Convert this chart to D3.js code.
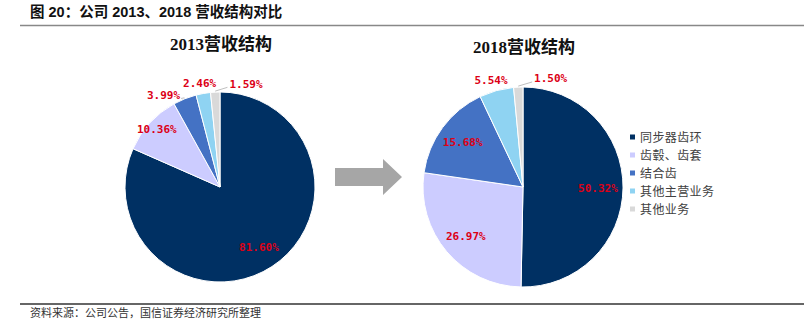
<!DOCTYPE html>
<html><head><meta charset="utf-8">
<script src="https://cdn.jsdelivr.net/npm/d3@7"></script>
<style>body{margin:0;background:#fff}svg{display:block}</style>
</head><body>
<svg id="c" width="804" height="331"></svg>
<script>
const categories = ["同步器齿环", "齿毂、齿套", "结合齿", "其他主营业务", "其他业务"];
const values2013 = [81.60, 10.36, 3.99, 2.46, 1.59];
const values2018 = [50.32, 26.97, 15.68, 5.54, 1.50];
const pieTitles = ["2013营收结构", "2018营收结构"];
const colors = ["#003063", "#ccccff", "#4472c4", "#8fd3f2", "#d9d9d9"];

const svg = d3.select("#c");
const W = 804, H = 331;

// header
svg.append("text").attr("x", 30).attr("y", 17)
  .attr("font-family", "'Liberation Sans','Noto Sans CJK SC',sans-serif")
  .attr("font-weight", "bold").attr("font-size", 14.5).attr("fill", "#111")
  .text("图 20：公司 2013、2018 营收结构对比");
svg.append("line").attr("x1", 20).attr("x2", W).attr("y1", 25.5).attr("y2", 25.5)
  .attr("stroke", "#888").attr("stroke-width", 1.5);
svg.append("line").attr("x1", 20).attr("x2", W).attr("y1", 304).attr("y2", 304)
  .attr("stroke", "#333").attr("stroke-width", 1.3);
svg.append("text").attr("x", 30).attr("y", 317)
  .attr("font-family", "'Noto Sans CJK SC',sans-serif").attr("font-size", 11).attr("fill", "#333")
  .text("资料来源：公司公告，国信证券经济研究所整理");

const color = d3.scaleOrdinal().domain(categories).range(colors);
const fmt = d => d3.format(".2f")(d) + "%";
const labelFont = "'DejaVu Sans Mono','Liberation Mono',monospace";

function drawPie(values, cx, cy, R, title, titleY) {
  const g = svg.append("g").attr("transform", `translate(${cx},${cy})`);
  svg.append("text").attr("x", cx + 1).attr("y", titleY).attr("text-anchor", "middle")
    .attr("font-family", "'Liberation Serif','Noto Sans CJK SC',serif")
    .attr("font-weight", "bold").attr("font-size", 17).attr("fill", "#111").text(title);

  const data = categories.map((c, i) => ({cat: c, value: values[i]}));
  const pie = d3.pie().sort(null).value(d => d.value);
  const arcs = pie(data);
  const arc = d3.arc().innerRadius(0).outerRadius(R);
  g.selectAll("path").data(arcs).join("path")
    .attr("d", arc).attr("fill", d => color(d.data.cat))
    .attr("stroke", "#fff").attr("stroke-width", 1);

  const total = d3.sum(values);
  const polar = (r, a) => [r * Math.sin(a), -r * Math.cos(a)];
  const lw = s => s.length * 6.62, lh = 11;
  const placed = [];
  const labels = [];
  // outside labels (small slices), processed from last to first
  const outside = arcs.map((a, i) => ({a, i})).filter(o => o.a.data.value / total * 100 < 8).reverse();
  outside.forEach((o, k) => {
    const a = o.a, txt = fmt(a.data.value), w = lw(txt);
    const mid = (a.startAngle + a.endAngle) / 2;
    let ang = mid;
    const boxAt = (ang) => {
      const p = polar(R + 4, ang);
      const c = [p[0] + (w / 2) * Math.sin(ang), p[1] - (lh / 2 + 1) * Math.cos(ang)];
      return {x0: c[0] - w / 2, x1: c[0] + w / 2, y0: c[1] - lh / 2, y1: c[1] + lh / 2, c};
    };
    let box;
    if (k === 0 && mid > 2 * Math.PI * 0.97) {
      ang = mid + 17 * Math.PI / 180;
      const p = polar(R * 1.12, ang);
      box = {x0: p[0] - w / 2, x1: p[0] + w / 2, y0: p[1] - lh / 2, y1: p[1] + lh / 2, c: p};
    } else {
      box = boxAt(ang);
      const hit = b => placed.some(q => b.x1 > q.x0 - 3 && b.x0 < q.x1 + 3 && b.y1 > q.y0 - 1 && b.y0 < q.y1 + 1);
      while (hit(box) && ang > mid - Math.PI / 3) { ang -= Math.PI / 360; box = boxAt(ang); }
    }
    placed.push(box);
    const lead = Math.abs(ang - mid) > 3 * Math.PI / 180;
    labels.push({txt, c: box.c, lead, mid, box});
  });
  // inside labels
  arcs.forEach(a => {
    const pct = a.data.value / total * 100;
    if (pct < 8) return;
    const f = pct > 12 ? 0.75 : 0.9;
    const mid = (a.startAngle + a.endAngle) / 2;
    labels.push({txt: fmt(a.data.value), c: polar(R * f, mid), lead: false});
  });
  labels.forEach(l => {
    if (l.lead) {
      const p = polar(R + 1, l.mid);
      const ex = l.c[0] < p[0] ? l.box.x1 + 1 : l.box.x0 - 2;
      const ey = l.c[1] < p[1] ? l.box.y1 - 2 : l.box.y0;
      g.append("line").attr("x1", p[0]).attr("y1", p[1]).attr("x2", ex).attr("y2", ey)
        .attr("stroke", "#bfbfbf").attr("stroke-width", 1);
    }
    g.append("text").attr("x", l.c[0]).attr("y", l.c[1] + 4)
      .attr("text-anchor", "middle").attr("font-family", labelFont)
      .attr("font-weight", "bold").attr("font-size", 11).attr("fill", "#dc0016")
      .text(l.txt);
  });
}

drawPie(values2013, 220, 187, 95, pieTitles[0], 50);
drawPie(values2018, 523, 187, 100, pieTitles[1], 53);

// arrow
svg.append("path")
  .attr("d", "M335,168 L383,168 L383,159 L402,177 L383,195 L383,186 L335,186 Z")
  .attr("fill", "#a6a6a6");

// legend
const legend = svg.append("g").attr("transform", "translate(630,137)");
const ly = d3.scalePoint().domain(categories).range([0, 72]);
categories.forEach(c => {
  legend.append("rect").attr("x", 0).attr("y", ly(c) - 2.5).attr("width", 5).attr("height", 5)
    .attr("fill", color(c));
  legend.append("text").attr("x", 10).attr("y", ly(c) + 4.5)
    .attr("font-family", "'Noto Sans CJK SC',sans-serif").attr("font-size", 12)
    .attr("letter-spacing", 0.4).attr("fill", "#404040").text(c);
});
</script>
</body></html>
